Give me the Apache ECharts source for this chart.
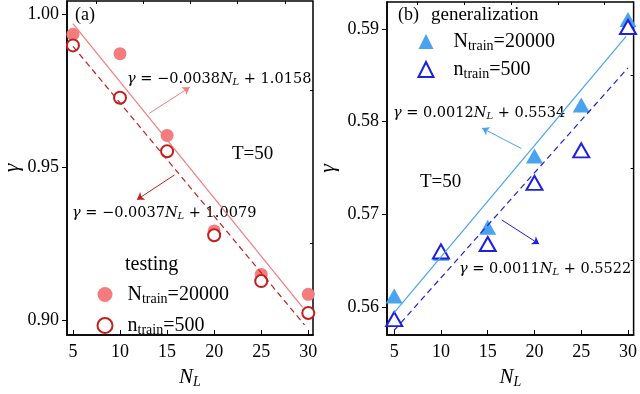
<!DOCTYPE html>
<html>
<head>
<meta charset="utf-8">
<title>gamma vs N_L</title>
<script src="https://cdn.jsdelivr.net/npm/echarts@6/dist/echarts.min.js"></script>
</head>
<body style="margin:0">
<div id="main" style="width:640px;height:394px;"></div>
<script>
var chart = echarts.init(document.getElementById('main'));

// data
var nL = [5, 10, 15, 20, 25, 30];
var testBig = [0.9933, 0.9870, 0.9603, 0.9291, 0.9149, 0.9084];
var testSmall = [0.9897, 0.9726, 0.9551, 0.9277, 0.9127, 0.9023];
var genBig = [0.5612, 0.5658, 0.5686, 0.5763, 0.5818, 0.5910];
var genSmall = [0.5587, 0.5660, 0.5668, 0.5734, 0.5769, 0.5902];
// fitted line end points
var fitTestBig = [[5, 0.9968], [29.4, 0.9041]];
var fitTestSmall = [[5, 0.9894], [29.6, 0.8984]];
var fitGenBig = [[5, 0.5594], [29.8, 0.5892]];
var fitGenSmall = [[5, 0.5575], [30, 0.5858]];
// arrows (from, to)
var arrowA1 = [[13.1, 0.9675], [17.4, 0.9760]];
var arrowA2 = [[15.8, 0.9474], [11.8, 0.9393]];
var arrowB1 = [[18.6, 0.5771], [14.4, 0.5793]];
var arrowB2 = [[16.5, 0.5694], [20.5, 0.5668]];
// ticks
var xTicks = [5, 10, 15, 20, 25, 30];
var xMinor = [7.5, 12.5, 17.5, 22.5, 27.5];
var yTicksA = [0.90, 0.95, 1.00];
var yMinorA = [0.925, 0.975];
var yTicksB = [0.56, 0.57, 0.58, 0.59];
var yMinorB = [0.565, 0.575, 0.585];

var pink = '#f47c7c', darkRed = '#c41e1e', lightBlue = '#4aa3ee', blue = '#1f1fe0';
var serif = '"Liberation Serif", "Times New Roman", serif';
var mathFont = '"DejaVu Serif", serif';

function pairs(ys) {
    return nL.map(function (x, i) { return [x, ys[i]]; });
}

var subRich = {
    n: { fontFamily: serif, fontSize: 20, color: '#000', lineHeight: 22 },
    s: { fontFamily: serif, fontSize: 14, color: '#000', padding: [9, 0, 0, 0], lineHeight: 22 },
    p: { fontFamily: serif, fontSize: 20, color: '#000', padding: [0, 0, 0, 10], lineHeight: 22 },
    q: { fontFamily: serif, fontSize: 20, color: '#000', padding: [0, 0, 0, 15], lineHeight: 22 }
};
var eqRich = {
    g: { fontFamily: mathFont, fontSize: 14.5, fontStyle: 'italic', fill: '#000' },
    t: { fontFamily: mathFont, fontSize: 14.5, fill: '#000' },
    n: { fontFamily: mathFont, fontSize: 14.5, fontStyle: 'italic', fill: '#000' },
    s: { fontFamily: mathFont, fontSize: 10, fontStyle: 'italic', fill: '#000', padding: [7, 0, 0, 0] }
};

function eq(slope, icpt) {
    return '{g|γ}{t| = ' + slope + '}{n|N}{s|L}{t| + ' + icpt + '}';
}

function xAxes(grid, min, max) {
    return [{
        type: 'value', gridIndex: grid, min: min, max: max,
        name: '{n|N}{s|L}', nameLocation: 'middle', nameGap: 30,
        nameTextStyle: {
            rich: {
                n: { fontFamily: serif, fontSize: 21, fontStyle: 'italic', color: '#000' },
                s: { fontFamily: serif, fontSize: 14, fontStyle: 'italic', color: '#000', padding: [10, 0, 0, 0] }
            }
        },
        axisLine: { lineStyle: { color: '#000', width: 1.5 } },
        axisTick: { inside: true, length: 5, customValues: xTicks, lineStyle: { color: '#000' } },
        axisLabel: { customValues: xTicks, margin: 8, color: '#000', fontFamily: serif, fontSize: 18 },
        splitLine: { show: false }
    }, {
        type: 'value', gridIndex: grid, min: min, max: max,
        axisLine: { show: false },
        axisTick: { inside: true, length: 3, customValues: xMinor, lineStyle: { color: '#000' } },
        axisLabel: { show: false },
        splitLine: { show: false }
    }];
}

function yAxes(grid, min, max, ticks, minor, gap) {
    return [{
        type: 'value', gridIndex: grid, min: min, max: max,
        name: 'γ', nameLocation: 'middle', nameGap: gap,
        nameTextStyle: { fontFamily: serif, fontSize: 22, fontStyle: 'italic', color: '#000' },
        axisLine: { show: true, lineStyle: { color: '#000', width: 1.5 } },
        axisTick: { inside: false, length: 5, customValues: ticks, lineStyle: { color: '#000' } },
        axisLabel: {
            customValues: ticks, margin: 8, color: '#000', fontFamily: serif, fontSize: 18,
            formatter: function (v) { return v.toFixed(2); }
        },
        splitLine: { show: false }
    }, {
        type: 'value', gridIndex: grid, min: min, max: max,
        axisLine: { show: false },
        axisTick: { inside: true, length: 3, customValues: minor, lineStyle: { color: '#000' } },
        axisLabel: { show: false },
        splitLine: { show: false }
    }];
}

function arrow(pts, color) {
    return {
        silent: true, symbol: ['none', 'arrow'], symbolSize: 7,
        label: { show: false },
        lineStyle: { color: color, type: 'solid', width: 1 },
        data: [[{ coord: pts[0] }, { coord: pts[1] }]]
    };
}

function text(x, y, str, size) {
    return {
        type: 'text', x: x, y: y, silent: true,
        style: { text: str, font: size + 'px ' + serif, fill: '#000', verticalAlign: 'middle' }
    };
}

function eqText(x, y, str) {
    return {
        type: 'text', x: x, y: y, silent: true,
        style: { text: str, font: '14.5px ' + mathFont, fill: '#000', verticalAlign: 'middle', rich: eqRich }
    };
}

var option = {
    animation: false,
    backgroundColor: '#fff',
    grid: [
        { left: 65, right: 327, top: 1, bottom: 56, show: true, borderColor: '#000', borderWidth: 1.5 },
        { left: 387, right: 3, top: 2, bottom: 54, show: true, borderColor: '#000', borderWidth: 1.5 }
    ],
    xAxis: xAxes(0, 4.37, 30.5).concat(xAxes(1, 4.23, 30.6)),
    yAxis: yAxes(0, 0.8951, 1.0042, yTicksA, yMinorA, 44).concat(yAxes(1, 0.55699, 0.5929, yTicksB, yMinorB, 48)),
    legend: [{
        left: 91.5, top: 278, orient: 'vertical', itemWidth: 15, itemHeight: 15, itemGap: 8,
        data: ['a20000', 'a500'],
        formatter: function (name) {
            return name === 'a20000' ? '{p|N}{s|train}{n|=20000}' : '{p|n}{s|train}{n|=500}';
        },
        textStyle: { rich: subRich }
    }, {
        left: 412.5, top: 25, orient: 'vertical', itemWidth: 15, itemHeight: 15, itemGap: 5,
        data: ['b20000', 'b500'],
        formatter: function (name) {
            return name === 'b20000' ? '{q|N}{s|train}{n|=20000}' : '{q|n}{s|train}{n|=500}';
        },
        textStyle: { rich: subRich }
    }],
    graphic: [
        text(75, 15, '(a)', 18),
        text(232, 154, 'T=50', 19),
        text(125, 265, 'testing', 20),
        eqText(127, 79, eq('−0.0038', '1.0158')),
        eqText(72, 213, eq('−0.0037', '1.0079')),
        text(398, 15, '(b)', 18),
        text(431, 15, 'generalization', 19),
        text(420, 182, 'T=50', 19),
        eqText(393, 113, eq('0.0012', '0.5534')),
        eqText(459, 269, eq('0.0011', '0.5522'))
    ],
    series: [
        {
            name: 'fitA1', type: 'line', xAxisIndex: 0, yAxisIndex: 0, data: fitTestBig,
            symbol: 'none', lineStyle: { color: pink, width: 1.2 }, markLine: arrow(arrowA1, pink)
        },
        {
            name: 'fitA2', type: 'line', xAxisIndex: 0, yAxisIndex: 0, data: fitTestSmall,
            symbol: 'none', lineStyle: { color: darkRed, width: 1.2, type: [6, 4] }, markLine: arrow(arrowA2, darkRed)
        },
        {
            name: 'a20000', type: 'scatter', xAxisIndex: 0, yAxisIndex: 0, data: pairs(testBig),
            symbol: 'circle', symbolSize: 13, itemStyle: { color: pink, opacity: 1 }
        },
        {
            name: 'a500', type: 'scatter', xAxisIndex: 0, yAxisIndex: 0, data: pairs(testSmall),
            symbol: 'emptyCircle', symbolSize: 12,
            itemStyle: { color: darkRed, borderColor: darkRed, borderWidth: 1.3, opacity: 1 }
        },
        {
            name: 'fitB1', type: 'line', xAxisIndex: 2, yAxisIndex: 2, data: fitGenBig,
            symbol: 'none', lineStyle: { color: lightBlue, width: 1.2 }, markLine: arrow(arrowB1, lightBlue)
        },
        {
            name: 'fitB2', type: 'line', xAxisIndex: 2, yAxisIndex: 2, data: fitGenSmall,
            symbol: 'none', lineStyle: { color: blue, width: 1.2, type: [6, 4] }, markLine: arrow(arrowB2, blue)
        },
        {
            name: 'b20000', type: 'scatter', xAxisIndex: 2, yAxisIndex: 2, data: pairs(genBig),
            symbol: 'triangle', symbolSize: [17, 15], itemStyle: { color: lightBlue, opacity: 1 }
        },
        {
            name: 'b500', type: 'scatter', xAxisIndex: 2, yAxisIndex: 2, data: pairs(genSmall),
            symbol: 'emptyTriangle', symbolSize: [16, 14],
            itemStyle: { color: blue, borderColor: blue, borderWidth: 1.2, opacity: 1 }
        }
    ]
};

chart.setOption(option);
</script>
</body>
</html>
